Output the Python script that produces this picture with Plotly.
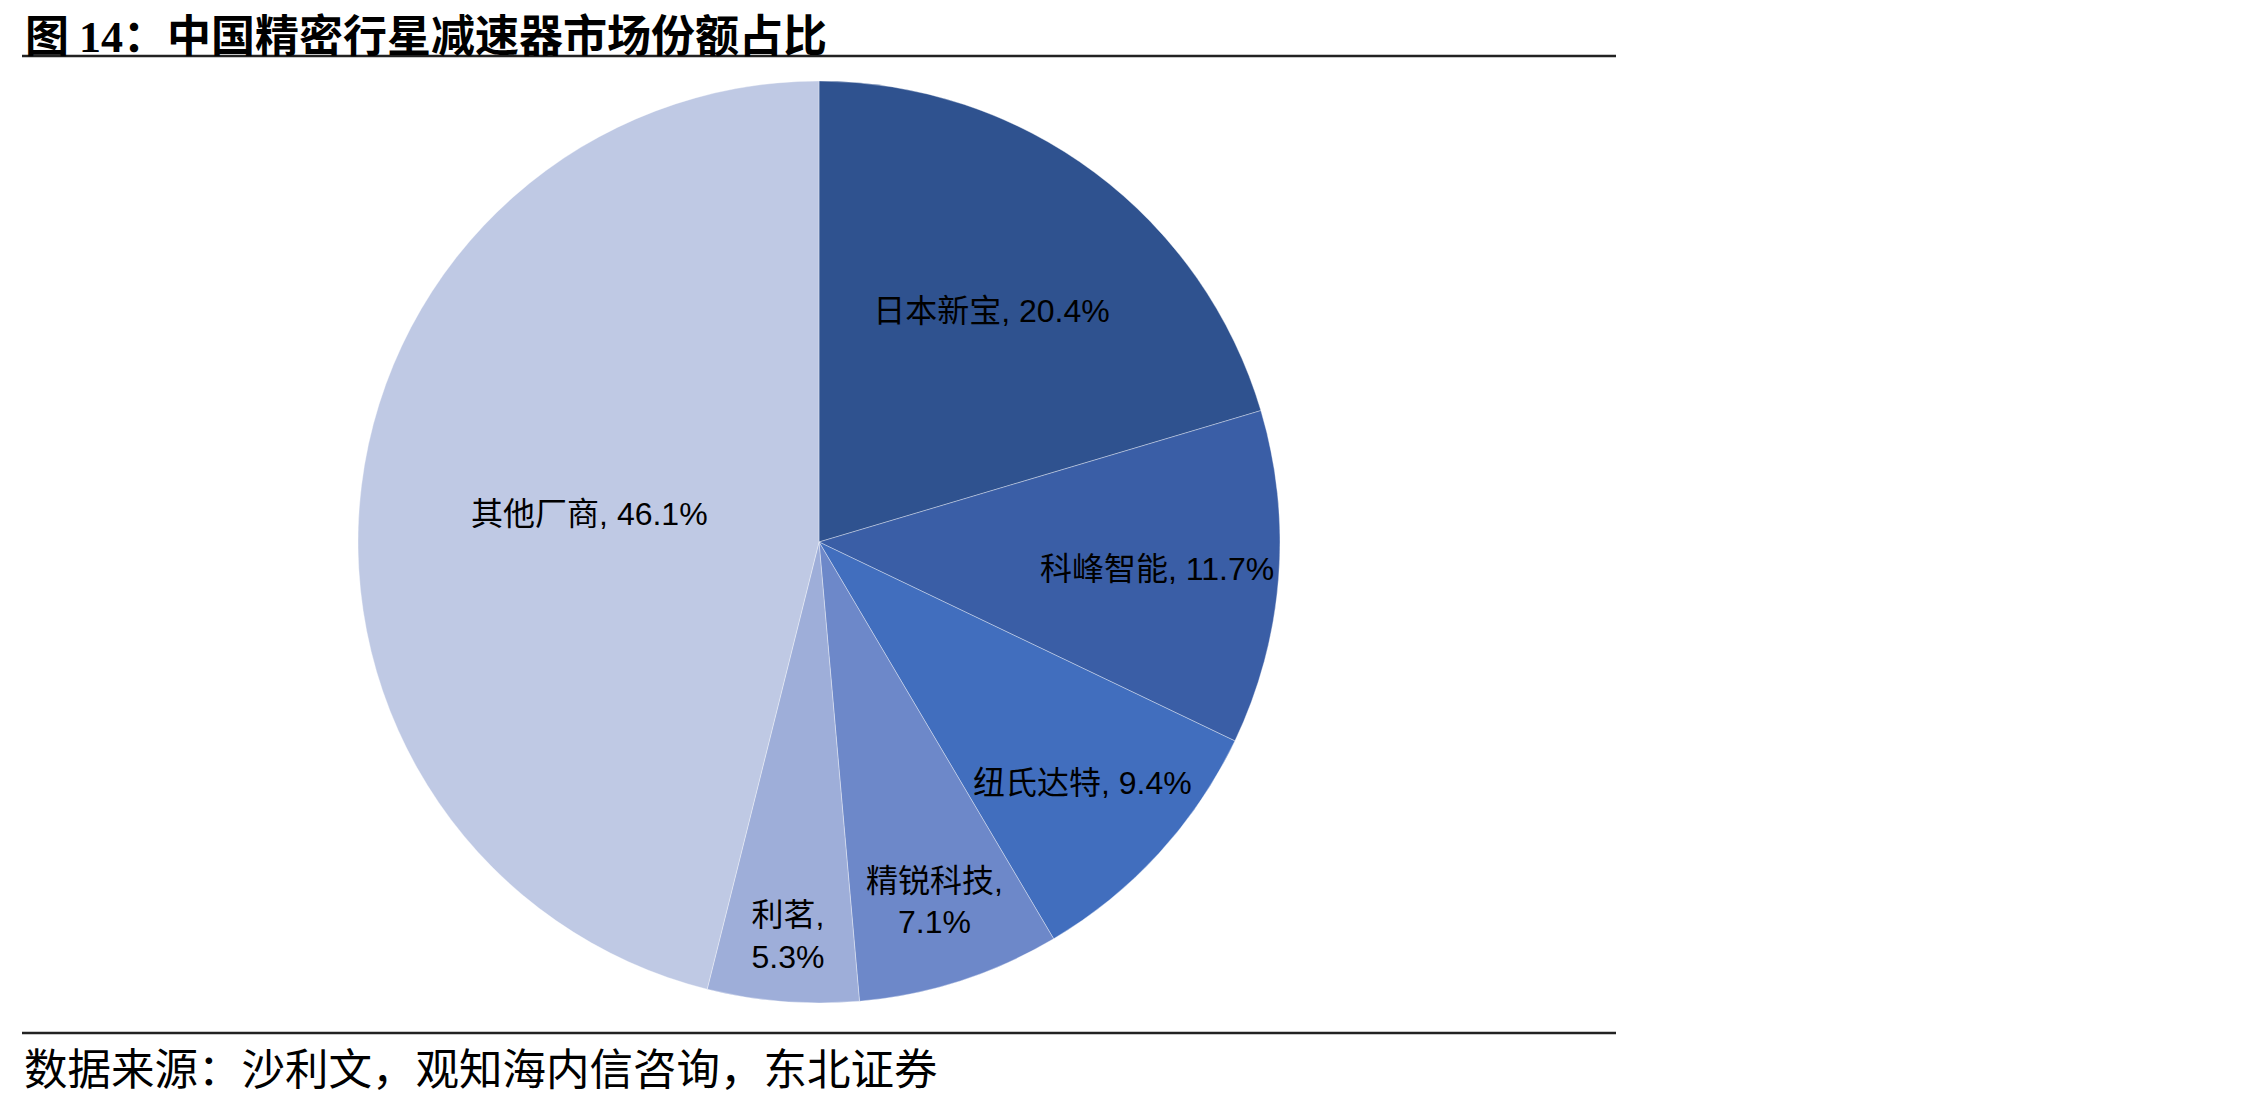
import plotly.graph_objects as go

labels = ["日本新宝", "科峰智能", "纽氏达特", "精锐科技", "利茗", "其他厂商"]
values = [20.4, 11.7, 9.4, 7.1, 5.3, 46.1]
separators = [", ", ", ", ", ", ",<br>", ",<br>", ", "]
colors = ["#2F528F", "#3A5EA6", "#416EBE", "#6D88C9", "#9EAED9", "#BFC9E4"]

title_text = "图 <span style='font-family:Liberation Serif'>14</span>：中国精密行星减速器市场份额占比"
source_text = "数据来源：沙利文，观知海内信咨询，东北证券"

W, H = 2268, 1098
total = sum(values)
texts = [f"{l}{s}{v / total * 100:.1f}%" for l, s, v in zip(labels, separators, values)]

cx, cy, r = 819, 542, 461
fig = go.Figure(go.Pie(
    labels=labels,
    values=values,
    text=texts,
    textinfo="text",
    textposition="inside",
    insidetextorientation="horizontal",
    sort=False,
    direction="clockwise",
    rotation=0,
    marker=dict(colors=colors, line=dict(color="rgba(255,255,255,0.35)", width=1)),
    textfont=dict(family="Liberation Sans, Noto Sans CJK SC", size=32, color="#000000"),
    domain=dict(x=[(cx - r) / W, (cx + r) / W], y=[1 - (cy + r) / H, 1 - (cy - r) / H]),
    showlegend=False,
    hoverinfo="label+percent",
))

fig.update_layout(
    width=W, height=H,
    margin=dict(l=0, r=0, t=0, b=0),
    paper_bgcolor="white",
    plot_bgcolor="white",
    uniformtext=dict(minsize=32, mode="show"),
    shapes=[
        dict(type="line", xref="paper", yref="paper", x0=22 / W, x1=1616 / W,
             y0=1 - 56 / H, y1=1 - 56 / H, line=dict(color="#222222", width=2.5)),
        dict(type="line", xref="paper", yref="paper", x0=22 / W, x1=1616 / W,
             y0=1 - 1033 / H, y1=1 - 1033 / H, line=dict(color="#222222", width=2.5)),
    ],
    annotations=[
        dict(text="<b>" + title_text + "</b>", xref="paper", yref="paper",
             x=24 / W, y=1.0, xanchor="left", yanchor="top", showarrow=False,
             borderpad=0,
             font=dict(family="Noto Sans CJK SC", size=44, color="#000000")),
        dict(text=source_text, xref="paper", yref="paper",
             x=22 / W, y=1 - 1066 / H, xanchor="left", yanchor="middle", showarrow=False,
             font=dict(family="Noto Sans CJK SC", size=43.5, color="#000000")),
    ],
)

fig.write_html("out.html")
